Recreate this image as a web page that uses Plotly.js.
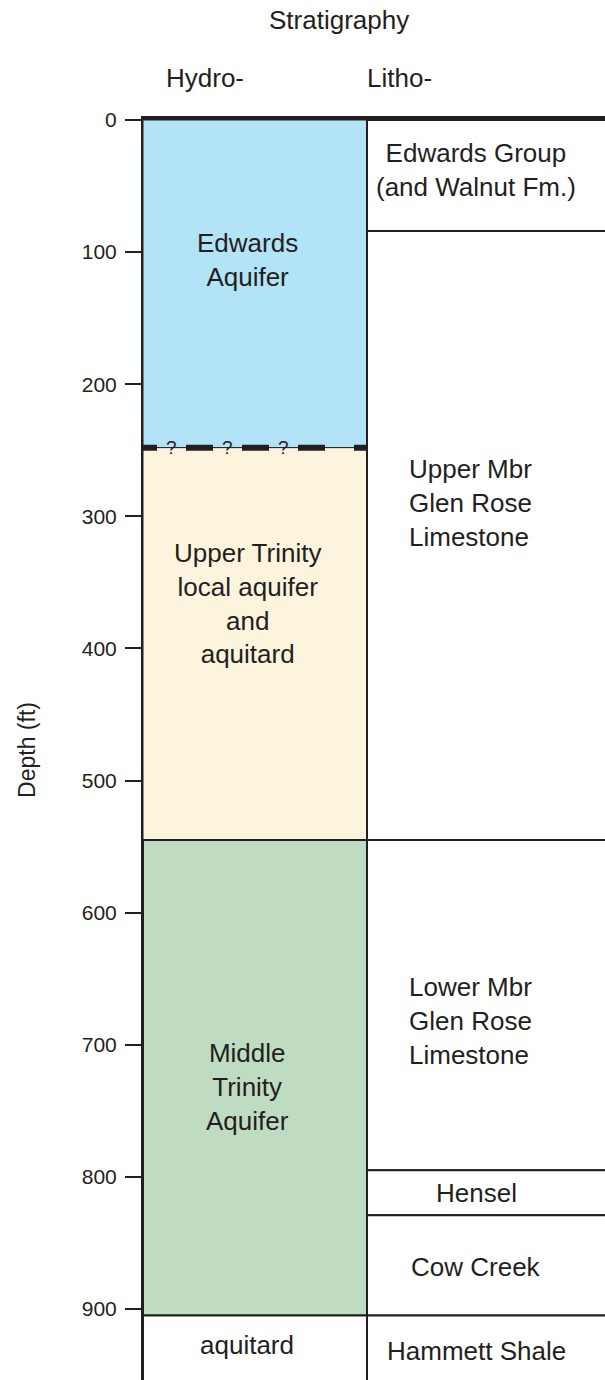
<!DOCTYPE html>
<html>
<head>
<meta charset="utf-8">
<script src="https://cdn.plot.ly/plotly-3.0.1.min.js"></script>
<style>html,body{margin:0;padding:0;background:#fff;}#chart{width:605px;height:1380px;}</style>
</head>
<body>
<div id="chart"></div>
<script>
// ---- data (depth in feet) ----
const hydroUnits = ['Edwards<br>Aquifer', 'Upper Trinity<br>local aquifer<br>and<br>aquitard', 'Middle<br>Trinity<br>Aquifer', 'aquitard'];
const hydroTop = [0, 248, 545, 905];
const hydroBottom = [248, 545, 905, 960];
const hydroLabelDepth = [106, 366, 732, 927];

const lithoUnits = ['Edwards Group<br>(and Walnut Fm.)', 'Upper Mbr<br>Glen Rose<br>Limestone', 'Lower Mbr<br>Glen Rose<br>Limestone', 'Hensel', 'Cow Creek', 'Hammett Shale'];
const lithoTop = [0, 84, 545, 795, 829, 905];
const lithoBottom = [84, 545, 795, 829, 905, 960];
const lithoLabelDepth = [38, 290, 682, 812, 868, 932];

const depthTicks = [0, 100, 200, 300, 400, 500, 600, 700, 800, 900];
const uncertainContact = hydroTop[1]; // queried Edwards / Upper Trinity contact

// ---- styles ----
const INK = '#231f20';
const FONT = 'Liberation Sans, Arial, Helvetica, sans-serif';
const hydroColors = ['#b3e3f7', '#fcf4dc', '#bfdcc3', '#ffffff'];
const lithoColors = lithoUnits.map(() => '#ffffff');
const LABEL_SIZE = 26;

const W = 605, H = 1380, ML = 143, MT = 120;
const colPx = 224;               // hydro column width in px
const plotW = W - ML;
const xMax = plotW / colPx;
const yMax = (H - MT) / 1.3211;  // depth at bottom of picture

const traces = [];
traces.push({
  type: 'bar', orientation: 'v',
  x: hydroTop.map(() => 0.5), width: hydroTop.map(() => 1),
  base: hydroTop, y: hydroTop.map((t, i) => hydroBottom[i] - t),
  marker: {color: hydroColors, line: {color: INK, width: [1, 1, 2, 2]}},
  hoverinfo: 'skip', showlegend: false
});
traces.push({
  type: 'bar', orientation: 'v',
  x: lithoTop.map(() => 1.55), width: lithoTop.map(() => 1.1),
  base: lithoTop, y: lithoTop.map((t, i) => lithoBottom[i] - t),
  marker: {color: lithoColors, line: {color: INK, width: 2}},
  hoverinfo: 'skip', showlegend: false
});

// dashed queried contact
const dashPx = 27, gapPx = 29, startPx = -13;
traces.push({
  type: 'scatter', mode: 'lines',
  x: [startPx / colPx, 1], y: [uncertainContact, uncertainContact],
  line: {color: INK, width: 6, dash: dashPx + 'px,' + gapPx + 'px'},
  hoverinfo: 'skip', showlegend: false
});

const annotations = [];
for (let k = 0; k < 3; k++) {
  const px = startPx + dashPx + gapPx / 2 + k * (dashPx + gapPx);
  annotations.push({x: px / colPx, y: uncertainContact, xref: 'x', yref: 'y', text: '?',
    showarrow: false, xanchor: 'center', yanchor: 'middle',
    font: {family: FONT, size: 19, color: INK}});
}

hydroUnits.forEach((t, i) => annotations.push({
  x: 104 / colPx, y: hydroLabelDepth[i], xref: 'x', yref: 'y', text: t,
  showarrow: false, xanchor: 'center', yanchor: 'middle', align: 'center',
  font: {family: FONT, size: LABEL_SIZE, color: INK}
}));

lithoUnits.forEach((t, i) => {
  const leftAligned = t.indexOf('Glen Rose') >= 0;
  annotations.push({
    x: leftAligned ? 1 + 40 / colPx : 1 + 109 / colPx, y: lithoLabelDepth[i], xref: 'x', yref: 'y', text: t,
    showarrow: false, xanchor: leftAligned ? 'left' : 'center', yanchor: 'middle',
    align: leftAligned ? 'left' : 'center',
    font: {family: FONT, size: LABEL_SIZE, color: INK}
  });
});

annotations.push({x: 196 / colPx, y: 1 + 100 / (H - MT), xref: 'x', yref: 'paper', text: 'Stratigraphy',
  showarrow: false, xanchor: 'center', yanchor: 'middle', font: {family: FONT, size: LABEL_SIZE, color: INK}});
annotations.push({x: 62 / colPx, y: 1 + 42 / (H - MT), xref: 'x', yref: 'paper', text: 'Hydro-',
  showarrow: false, xanchor: 'center', yanchor: 'middle', font: {family: FONT, size: LABEL_SIZE, color: INK}});
annotations.push({x: 1, y: 1 + 42 / (H - MT), xref: 'x', yref: 'paper', text: 'Litho-',
  showarrow: false, xanchor: 'left', yanchor: 'middle', xshift: -2, font: {family: FONT, size: LABEL_SIZE, color: INK}});

const layout = {
  width: W, height: H,
  margin: {l: ML, r: 0, t: MT, b: 0, pad: 0},
  paper_bgcolor: '#ffffff', plot_bgcolor: '#ffffff',
  barmode: 'overlay', bargap: 0,
  showlegend: false,
  xaxis: {range: [0, xMax], side: 'top', showline: true, linewidth: 4, linecolor: INK,
    showticklabels: false, ticks: '', showgrid: false, zeroline: false, fixedrange: true},
  yaxis: {range: [yMax, 0], showline: true, linewidth: 2, linecolor: INK,
    tickmode: 'array', tickvals: depthTicks, ticktext: depthTicks.map(String),
    ticks: 'outside', ticklen: 16, tickwidth: 2, tickcolor: INK, ticklabelstandoff: 4,
    tickfont: {family: FONT, size: 21, color: INK},
    showgrid: false, zeroline: false, fixedrange: true,
    title: {text: 'Depth (ft)', standoff: 40, font: {family: FONT, size: 23, color: INK}}},
  annotations: annotations,
  font: {family: FONT, color: INK}
};

Plotly.newPlot('chart', traces, layout, {staticPlot: true, displayModeBar: false});
</script>
</body>
</html>
